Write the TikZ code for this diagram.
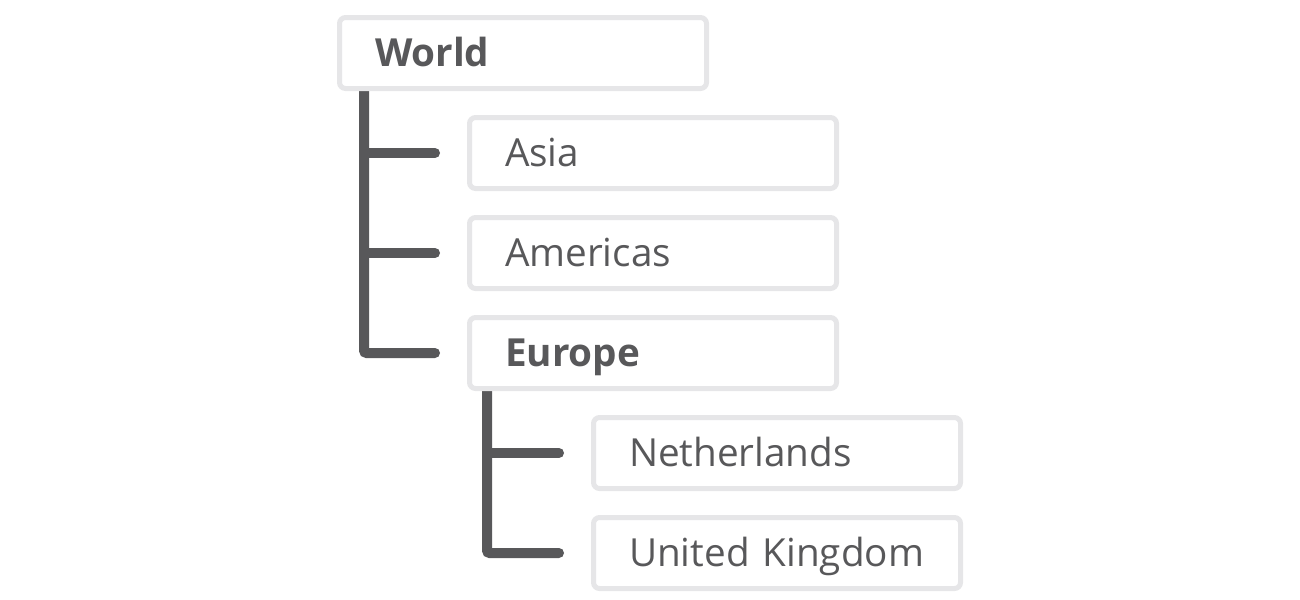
\documentclass[tikz,border=0pt]{standalone}
\usepackage{fontspec}
\setmainfont{Open Sans}
\usetikzlibrary{positioning}

\definecolor{treegray}{HTML}{58585A}
\definecolor{boxgray}{HTML}{E6E6E8}
\pgfdeclarelayer{background}
\pgfsetlayers{background,main}

\begin{document}
\begin{tikzpicture}[x=0.75pt,y=-0.75pt,node distance=18pt,
	region/.style={draw=boxgray,line width=3.75pt,rounded corners=4.5pt,fill=white,
		minimum width=275.25pt,minimum height=53.25pt,inner xsep=0pt,inner ysep=0pt,
		text width=222pt,align=left,text height=20.7pt,text depth=0pt,
		font=\fontsize{29}{35}\selectfont,text=treegray},
	branch/.style={draw=treegray,line width=7.5pt,line cap=round,rounded corners=2pt}]
		 \useasboundingbox (0,0) rectangle (1300,600);

		 \node[region]   (world)        at (523,53)                         {\bfseries World};
		 \node[region]   (asia)         [below=of world, xshift=97.5pt]     {Asia};
		 \node[region]   (americas)     [below=of asia]                     {Americas};
		 \node[region]   (europe)       [below=of americas]                 {\bfseries Europe};
		 \node[region]   (netherlands)  [below=of europe, xshift=93pt]      {Netherlands};
		 \node[region]   (uk)           [below=of netherlands]              {United Kingdom};

		 \begin{pgfonlayer}{background}
		 	\coordinate (worldstem)  at ([xshift=20.25pt]world.south west);
		 	\coordinate (europestem) at ([xshift=15pt]europe.south west);
		 	\path[branch] (worldstem) |- ([xshift=-24pt]europe.west);
		 	\path[branch] (worldstem |- asia.west) -- ([xshift=-24pt]asia.west);
		 	\path[branch] (worldstem |- americas.west) -- ([xshift=-24pt]americas.west);
		 	\path[branch] (europestem) |- ([xshift=-24pt]uk.west);
		 	\path[branch] (europestem |- netherlands.west) -- ([xshift=-24pt]netherlands.west);
		 \end{pgfonlayer}
	\end{tikzpicture}
\end{document}
